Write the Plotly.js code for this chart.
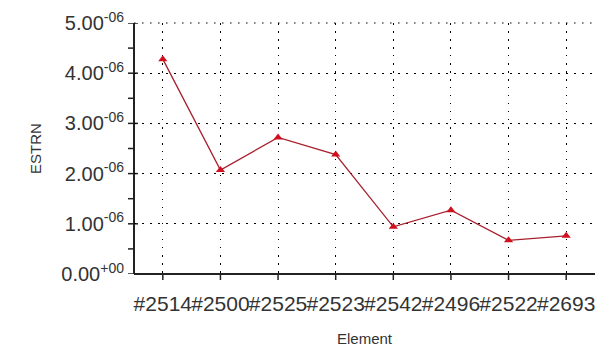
<!DOCTYPE html>
<html>
<head>
<meta charset="utf-8">
<script src="https://cdn.plot.ly/plotly-3.0.1.min.js"></script>
<style>html,body{margin:0;padding:0;background:#fff;}#chart{width:613px;height:353px;}</style>
</head>
<body>
<div id="chart"></div>
<script>
const elements = ['#2514', '#2500', '#2525', '#2523', '#2542', '#2496', '#2522', '#2693'];
const estrn = [4.28e-6, 2.07e-6, 2.72e-6, 2.38e-6, 0.94e-6, 1.27e-6, 0.67e-6, 0.76e-6];
const yTickVals = [0, 1e-6, 2e-6, 3e-6, 4e-6, 5e-6];
const yTickText = ['0.00<sup>+00</sup>', '1.00<sup>-06</sup>', '2.00<sup>-06</sup>', '3.00<sup>-06</sup>', '4.00<sup>-06</sup>', '5.00<sup>-06</sup>'];
const yMinorVals = [0.5e-6, 1.5e-6, 2.5e-6, 3.5e-6, 4.5e-6];

const axisColor = '#222';
const gridDash = '1.5px,6.5px';

const trace = {
  x: elements, y: estrn, type: 'scatter', mode: 'lines+markers',
  line: {color: '#a8202e', width: 1.3},
  marker: {symbol: 'triangle-up', size: 8, color: '#d0101e'},
  cliponaxis: false
};

// Axis lines and ticks as thin filled rectangles, built from the axis arrays
function bar(extra) {
  return Object.assign({type: 'rect', fillcolor: axisColor, line: {width: 0}, layer: 'below'}, extra);
}
const shapes = [];
shapes.push(bar({xref: 'paper', x0: 0, x1: 1, yref: 'paper', ysizemode: 'pixel', yanchor: 0, y0: -1, y1: 1}));
shapes.push(bar({yref: 'paper', y0: 0, y1: 1, xref: 'paper', xsizemode: 'pixel', xanchor: 0, x0: -1, x1: 1}));
shapes.push({type: 'line', xref: 'paper', yref: 'paper', x0: 0, x1: 1, y0: 1, y1: 1,
  line: {color: '#000', width: 1, dash: gridDash}, layer: 'below'});
elements.forEach(function (c, i) {
  shapes.push(bar({xref: 'x', xsizemode: 'pixel', xanchor: i, x0: -0.75, x1: 0.75,
    yref: 'paper', ysizemode: 'pixel', yanchor: 0, y0: -6, y1: 0}));
});
yTickVals.forEach(function (v) {
  shapes.push(bar({yref: 'y', ysizemode: 'pixel', yanchor: v, y0: -0.75, y1: 0.75,
    xref: 'paper', xsizemode: 'pixel', xanchor: 0, x0: -6, x1: 4}));
});
yMinorVals.forEach(function (v) {
  shapes.push(bar({yref: 'y', ysizemode: 'pixel', yanchor: v, y0: -0.75, y1: 0.75,
    xref: 'paper', xsizemode: 'pixel', xanchor: 0, x0: -6, x1: 0}));
});

const layout = {
  width: 613, height: 353,
  margin: {l: 134, r: 18, t: 23, b: 79},
  paper_bgcolor: '#fff', plot_bgcolor: 'rgba(0,0,0,0)',
  showlegend: false,
  font: {family: 'Liberation Sans, Arial, sans-serif', color: '#333'},
  shapes: shapes,
  xaxis: {
    type: 'category', range: [-0.5, 7.5], tickangle: 0,
    ticks: 'outside', ticklen: 5, tickcolor: 'rgba(0,0,0,0)',
    ticklabelstandoff: 6,
    tickfont: {size: 21, color: '#333'},
    showline: false,
    showgrid: true, gridcolor: '#000', gridwidth: 1, griddash: gridDash,
    zeroline: false,
    title: {text: 'Element', font: {size: 15, color: '#333'}, standoff: 19}
  },
  yaxis: {
    range: [0, 5e-6],
    tickmode: 'array', tickvals: yTickVals, ticktext: yTickText,
    ticks: 'outside', ticklen: 5, tickcolor: 'rgba(0,0,0,0)',
    tickfont: {size: 20, color: '#333'},
    showline: false,
    showgrid: true, gridcolor: '#000', gridwidth: 1, griddash: gridDash,
    zeroline: false,
    title: {text: 'ESTRN', font: {size: 15, color: '#333'}, standoff: 16}
  }
};

Plotly.newPlot('chart', [trace], layout, {displayModeBar: false, staticPlot: true});
</script>
</body>
</html>
